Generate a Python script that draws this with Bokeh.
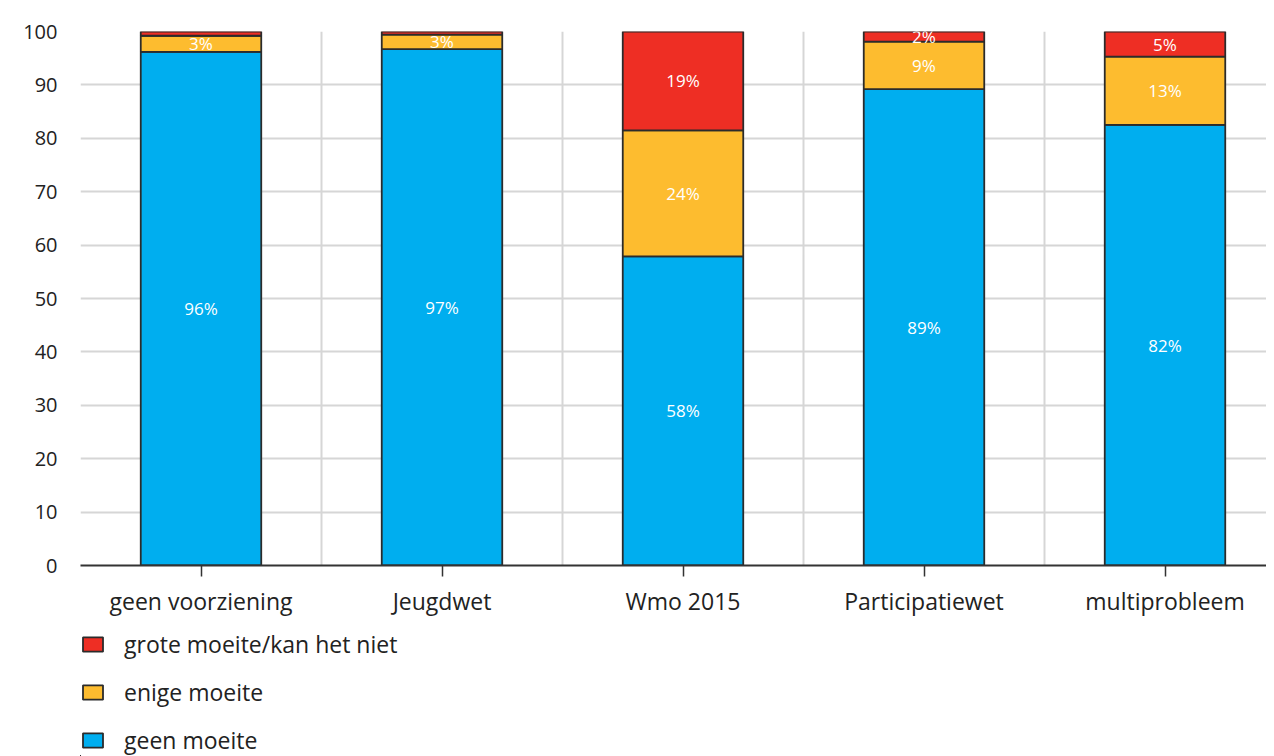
from bokeh.plotting import figure
from bokeh.models import Range1d, FixedTicker, Legend, LegendItem, ColumnDataSource
from bokeh.layouts import column
from bokeh.core.properties import value
from bokeh.embed import file_html
from bokeh.resources import INLINE

categories = ["geen voorziening", "Jeugdwet", "Wmo 2015", "Participatiewet", "multiprobleem"]
geen_moeite = [96.2, 96.7, 57.9, 89.2, 82.5]
enige_moeite = [3.0, 2.7, 23.6, 8.9, 12.8]
grote_moeite = [0.8, 0.6, 18.5, 1.9, 4.7]
label_geen = ["96%", "97%", "58%", "89%", "82%"]
label_enige = ["3%", "3%", "24%", "9%", "13%"]
label_grote = ["", "", "19%", "2%", "5%"]
y_ticks = [0, 10, 20, 30, 40, 50, 60, 70, 80, 90, 100]

series_names = ["geen moeite", "enige moeite", "grote moeite/kan het niet"]
colors = ["#00AEEF", "#FDBC2F", "#EE2E24"]
FONT = "Open Sans"

xs = [i + 0.5 for i in range(len(categories))]
src = ColumnDataSource(dict(x=xs, geen=geen_moeite, enige=enige_moeite, grote=grote_moeite))

p = figure(frame_width=1186, frame_height=534, output_backend="svg", toolbar_location=None,
           x_range=Range1d(0, 1186 / 241), y_range=Range1d(0, 100),
           min_border_left=80, min_border_right=0, min_border_top=31, min_border_bottom=55)
p.outline_line_color = None
p.background_fill_color = "white"

renderers = p.vbar_stack(["geen", "enige", "grote"], x="x", width=0.5, source=src,
                         color=colors, line_color="#2b2b2b", line_width=1.8)

# segment labels
bottoms = [0.0] * len(categories)
for vals, labs in [(geen_moeite, label_geen), (enige_moeite, label_enige), (grote_moeite, label_grote)]:
    mids = [b + v / 2 for b, v in zip(bottoms, vals)]
    bottoms = [b + v for b, v in zip(bottoms, vals)]
    p.text(x=xs, y=mids, text=labs, text_color="white", text_font=value(FONT),
           text_font_size="17px", text_align="center", text_baseline="middle")

# grids
p.xgrid.ticker = FixedTicker(ticks=[0, 1, 2, 3, 4])
p.xgrid.grid_line_color = "#d6d6d6"
p.xgrid.grid_line_width = 2
p.ygrid.ticker = FixedTicker(ticks=y_ticks)
p.ygrid.grid_line_color = "#d6d6d6"
p.ygrid.grid_line_width = 2

# axes
xa = p.xaxis[0]
xa.ticker = FixedTicker(ticks=xs)
xa.major_label_overrides = {x: c for x, c in zip(xs, categories)}
xa.axis_line_color = "#333333"
xa.axis_line_width = 2
xa.major_tick_line_color = "#333333"
xa.major_tick_line_width = 1.5
xa.major_tick_out = 11
xa.major_tick_in = 0
xa.minor_tick_line_color = None
xa.major_label_text_font = FONT
xa.major_label_text_font_size = "23px"
xa.major_label_text_color = "#222222"
xa.major_label_standoff = 8

ya = p.yaxis[0]
ya.ticker = FixedTicker(ticks=y_ticks)
ya.axis_line_color = None
ya.major_tick_line_color = None
ya.minor_tick_line_color = None
ya.major_tick_out = 0
ya.major_tick_in = 0
ya.major_label_text_font = FONT
ya.major_label_text_font_size = "20px"
ya.major_label_text_color = "#222222"
ya.major_label_standoff = 23

# legend figure: legend keys share the same data source; its ranges keep the bars out of view
p2 = figure(frame_width=1186, frame_height=136, output_backend="svg", toolbar_location=None,
            x_axis_type=None, y_axis_type=None,
            x_range=Range1d(10, 15), y_range=Range1d(150, 250),
            min_border_left=80, min_border_right=0, min_border_top=0, min_border_bottom=0)
p2.outline_line_color = None
keys = p2.vbar_stack(["geen", "enige", "grote"], x="x", width=0.5, source=src,
                     color=colors, line_color="#2b2b2b", line_width=1.8)
items = [LegendItem(label=series_names[i], renderers=[keys[i]]) for i in [2, 1, 0]]
legend = Legend(items=items, location="bottom_left", orientation="vertical",
                glyph_width=25, glyph_height=18, label_standoff=19, label_height=30,
                spacing=16, padding=0, margin=0, border_line_color=None,
                background_fill_alpha=0, label_text_font=FONT,
                label_text_font_size="23px", label_text_color="#222222")
p2.add_layout(legend, "center")

layout = column(p, p2, spacing=0)
open("out.html", "w").write(file_html(layout, INLINE))
